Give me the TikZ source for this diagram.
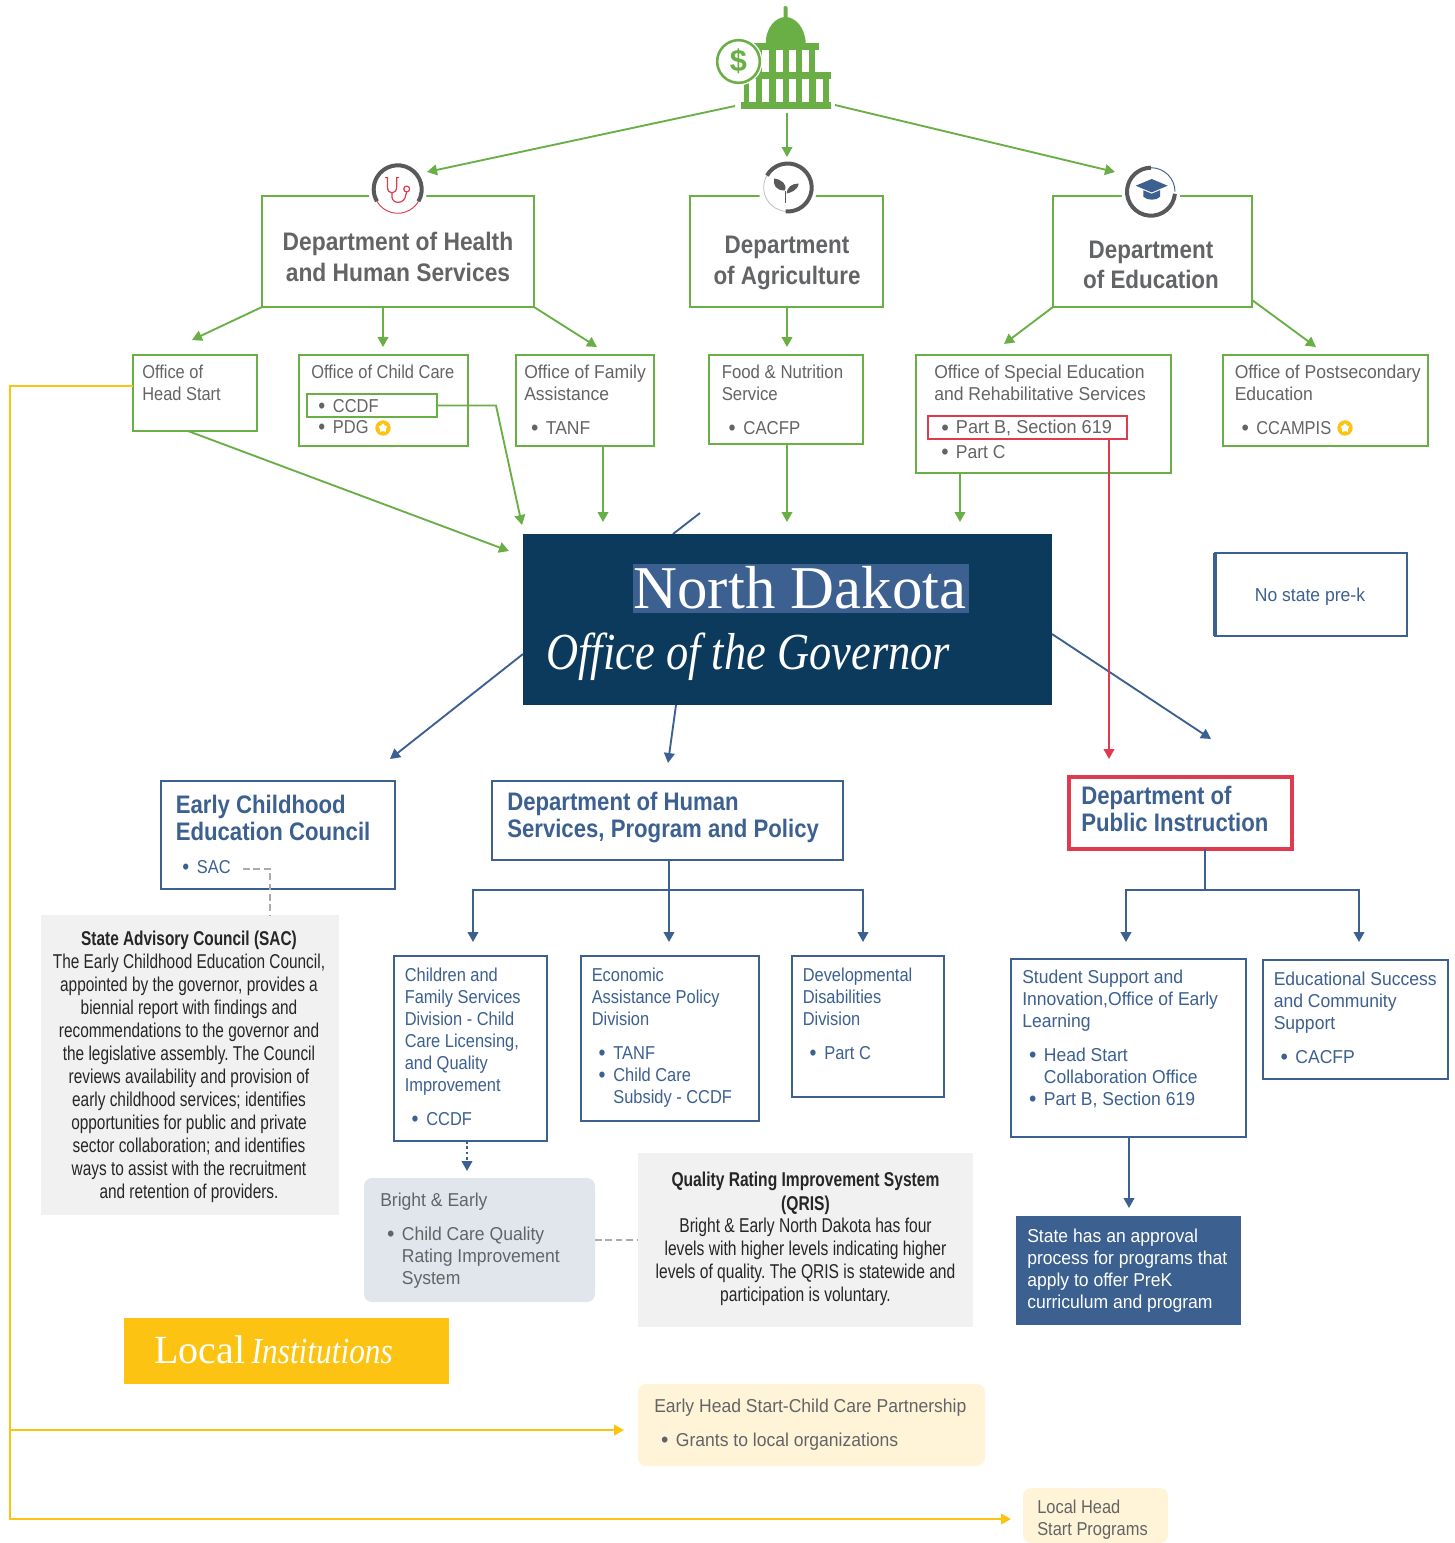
\documentclass[tikz,border=0pt]{standalone}
\usepackage{fontspec}
\usetikzlibrary{arrows.meta,calc,shapes.geometric}
\setmainfont{Liberation Sans}
\newfontfamily\bodyf[FakeStretch=.88]{Liberation Sans}
\newfontfamily\midf[FakeStretch=.9]{Liberation Sans}
\newfontfamily\widef[FakeStretch=.94]{Liberation Sans}
\newfontfamily\widerf[FakeStretch=.97]{Liberation Sans}
\newfontfamily\condf[FakeStretch=.78]{Liberation Sans}
\newfontfamily\sacf[FakeStretch=.77]{Liberation Sans}
\newfontfamily\headf[FakeStretch=.875]{Liberation Sans}
\newfontfamily\deptf[FakeStretch=.9]{Liberation Sans}
\newfontfamily\deptnf[FakeStretch=.885]{Liberation Sans}
\newfontfamily\serf{Liberation Serif}
\newfontfamily\serif[FakeStretch=.855]{Liberation Serif}
\definecolor{cgreen}{HTML}{6AAF46}
\definecolor{cblue}{HTML}{3C6090}
\definecolor{cnavy}{HTML}{0B3A5C}
\definecolor{cred}{HTML}{E03A4E}
\definecolor{cyel}{HTML}{FCC312}
\definecolor{ctext}{HTML}{636466}
\definecolor{cgraybox}{HTML}{F1F1F2}
\definecolor{cbluebox}{HTML}{E1E6ED}
\definecolor{cyelbox}{HTML}{FFF4D8}
\definecolor{cring}{HTML}{58595B}
\definecolor{cdash}{HTML}{ABABAB}
\newcommand\bx[6]{\pgfmathsetmacro\bxw{(#4-#2)*.75}\pgfmathsetmacro\bxh{(#5-#3)*.75}%
  \node[#1,anchor=north west,minimum width=\bxw pt,minimum height=\bxh pt,inner sep=0pt,outer sep=0pt] (#6) at (#2,#3) {};}
\newcommand\ringarc[6]{\draw[#6] (#1,#2) ++(#3:#5pt) arc[start angle=#3,end angle=#4,radius=#5pt];}
\newcommand\bul{\makebox[11pt][l]{\raisebox{-.15ex}{\scalebox{1.2}{\textbullet}}}}
\newcommand\bl{\hspace{5.2pt}\bul}
\newcommand\cnt{\hspace{16.2pt}}
\tikzset{
  gbox/.style={draw=cgreen,line width=1.9pt,fill=white},
  gthin/.style={draw=cgreen,line width=1.5pt,fill=white},
  bbox/.style={draw=cblue,line width=2pt,fill=white},
  bthin/.style={draw=cblue,line width=1.5pt,fill=white},
  garrow/.style={draw=cgreen,line width=1.4pt,-{Triangle[length=7.5pt,width=8pt]}},
  barrow/.style={draw=cblue,line width=1.4pt,-{Triangle[length=7.5pt,width=8pt]}},
  rarrow/.style={draw=cred,line width=1.4pt,-{Triangle[length=7.5pt,width=8pt]}},
  yarrow/.style={draw=cyel,line width=1.4pt,-{Triangle[length=7.5pt,width=8pt]}},
  dashg/.style={draw=cdash,line width=2pt,dash pattern=on 5pt off 2.8pt},
  txt/.style={anchor=north west,inner sep=0pt,yshift=-1.4pt,align=left,text=ctext,font=\bodyf\frenchspacing\fontsize{14}{16.5}\selectfont},
  wtxt/.style={txt,font=\widef\frenchspacing\fontsize{14}{16.5}\selectfont},
  btxt/.style={txt,text=cblue},
  dept/.style={inner sep=0pt,align=center,text=ctext,font=\deptf\bfseries\fontsize{19}{22.8}\selectfont},
  deptn/.style={dept,font=\deptnf\bfseries\fontsize{19}{22.8}\selectfont},
  bhead/.style={anchor=north west,inner sep=0pt,yshift=-1.6pt,align=left,text=cblue,font=\headf\bfseries\fontsize{19}{20.4}\selectfont},
  para/.style={anchor=north,inner sep=0pt,yshift=-1.6pt,align=center,text=black!85,font=\condf\frenchspacing\fontsize{15}{17.35}\selectfont},
  sacpara/.style={para,yshift=-1pt,font=\sacf\frenchspacing\fontsize{15}{17.3}\selectfont},
  starmark/.style={circle,fill=cyel,minimum size=11.5pt,inner sep=0pt},
  starin/.style={star,star points=5,fill=white,minimum size=7pt,inner sep=0pt},
}
\begin{document}
\begin{tikzpicture}[x=0.75pt,y=-0.75pt]
\useasboundingbox (0,0) rectangle (1454,1543);

% ---- capitol icon
\fill[cgreen,rounded corners=1pt] (783.5,6) rectangle (787.5,20);
\fill[cgreen] (765.7,43) .. controls (766,27) and (776,17) .. (785.5,17) .. controls (795,17) and (805,27) .. (805.7,43) -- cycle;
\fill[cgreen] (750,42.7) rectangle (819,50);
\fill[cgreen] (755,50) rectangle (815,72);
\fill[cgreen] (742,72) rectangle (831,79);
\fill[cgreen] (744,79) rectangle (829,102);
\fill[cgreen] (740.5,102) rectangle (831,109);
\foreach \xx in {762,775.5,789,802}{\fill[white] (\xx,50) rectangle (\xx+7,72);}
\foreach \xx in {749,762,775.5,789,802,815.5}{\fill[white] (\xx,79) rectangle (\xx+7,102);}
\fill[white] (738.5,61.5) circle[radius=18pt];
\draw[cgreen,line width=1.9pt] (738.5,61.5) circle[radius=16pt];
\node[inner sep=0pt,text=cgreen,font=\bfseries\fontsize{23}{23}\selectfont] (dollar) at (738.5,61.5) {\$};
\coordinate (capL) at (735,106);
\coordinate (capC) at (787,113);
\coordinate (capR) at (835,105);

% ---- department boxes
\bx{gbox}{262}{196}{534}{307}{health}
\bx{gbox}{690}{196}{883}{307}{agri}
\bx{gbox}{1053}{196}{1252}{307}{educ}
\node[dept] (healthT) at (398,257) {Department of Health\\and Human Services};
\node[deptn] (agriT) at (787,262.5) {Department\\[.5pt]of Agriculture};
\node[deptn] (educT) at (1151,265) {Department\\of Education};

% ---- department icons
\fill[white] (397.7,189.3) circle[radius=22pt];
\ringarc{397.7}{189.3}{-150}{-30}{18}{cred,line width=.7pt}
\ringarc{397.7}{189.3}{-30}{210}{18}{cring,line width=3pt}
\begin{scope}[shift={(397.7,189.3)}]
\draw[cred,line width=.9pt,line cap=round] (-12,-11.7) -- (-10.3,-11.7) -- (-10.3,-3) .. controls (-10.3,2) and (-8,3.5) .. (-5.7,3.5) .. controls (-3.5,3.5) and (-1,2) .. (-1,-3) -- (-1,-11.7) -- (1,-11.7);
\draw[cred,line width=.9pt] (-5.7,3.5) -- (-5.7,8) .. controls (-5,15) and (7,15) .. (8,6) -- (9,2.5);
\draw[cred,line width=.9pt] (9,-.3) circle[radius=2.2pt];
\end{scope}
\coordinate (iconH) at (427,172);

\fill[white] (787.7,187.5) circle[radius=22pt];
\ringarc{787.7}{187.5}{150}{265}{18}{black!25,line width=.6pt}
\ringarc{787.7}{187.5}{150}{-95}{18}{cring,line width=3pt}
\begin{scope}[shift={(787.7,187.5)}]
\draw[cring,line width=1.1pt] (-2,15) -- (-2,3);
\fill[cring] (-3,3) .. controls (-12,3) and (-15,-3) .. (-13.5,-9) .. controls (-6,-8) and (0,-3) .. (-3,3) -- cycle;
\fill[cring] (-1,6) .. controls (3,5) and (10,3) .. (11,-4) .. controls (4,-4) and (-1,0) .. (-1,6) -- cycle;
\end{scope}
\coordinate (iconA) at (787,157);

\fill[white] (1151,191.7) circle[radius=22pt];
\ringarc{1151}{191.7}{90}{0}{18}{cblue,line width=.7pt}
\ringarc{1151}{191.7}{-5}{-270}{18}{cring,line width=3pt}
\begin{scope}[shift={(1151,191.7)}]
\fill[cblue] (-15.3,-6) -- (.7,-12.7) -- (16.7,-6) -- (.7,.7) -- cycle;
\fill[cblue] (-7.7,-1.5) -- (.7,2) -- (9,-1.5) -- (9,5) .. controls (6,9) and (-4,9) .. (-7.7,5) -- cycle;
\end{scope}
\coordinate (iconE) at (1115,172);

\draw[garrow] (capL) -- (iconH);
\draw[garrow] (capC) -- (iconA);
\draw[garrow] (capR) -- (iconE);

% ---- offices
\bx{gthin}{133}{355}{257}{431}{headstart}
\node[txt] (headstartT) at (142,363) {Office of\\Head Start};
\bx{gthin}{299}{355}{468}{446}{childcare}
\node[txt] (childcareT) at (311,363) {Office of Child Care};
\bx{gthin}{307}{394}{437}{417}{ccdfbox}
\node[txt] (ccdfT) at (318,397) {\bul CCDF\\[-.5pt]\bul PDG};
\node[starmark] (star1) at (383,428) {};
\node[starin] at (star1) {};
\bx{gthin}{516}{355}{654}{446}{family}
\node[wtxt] (familyT) at (524,363) {Office of Family\\Assistance\\[8.5pt]\bl TANF};
\bx{gthin}{709}{355}{863}{444}{food}
\node[txt,font=\midf\frenchspacing\fontsize{14}{16.5}\selectfont] (foodT) at (721.5,363) {Food \& Nutrition\\Service\\[8.5pt]\bl CACFP};
\bx{gthin}{916}{355}{1171}{473}{special}
\node[wtxt] (specialT) at (934,363) {Office of Special Education\\and Rehabilitative Services};
\bx{draw=cred,line width=1.5pt,fill=white}{928}{416}{1127}{439}{partb}
\node[wtxt,font=\widerf\frenchspacing\fontsize{14}{16.5}\selectfont] (partbT) at (941,418) {\bul Part B, Section 619};
\node[wtxt] (partcT) at (941,443) {\bul Part C};
\bx{gthin}{1223}{355}{1428}{446}{postsec}
\node[wtxt] (postsecT) at (1234.5,363) {Office of Postsecondary\\Education\\[8.5pt]\bl {\bodyf CCAMPIS}};
\node[starmark] (star2) at (1345,428) {};
\node[starin] at (star2) {};

\draw[garrow] (health.south west) -- (192,340);
\draw[garrow] (383,307) -- (383,347);
\draw[garrow] (health.south east) -- (597,347);
\draw[garrow] (787,307) -- (787,347);
\draw[garrow] (educ.south west) -- (1004,344);
\draw[garrow] (1252,300) -- (1316,347);

% ---- governor
\draw[cblue,line width=1.4pt] (700,513) -- (673,534);
\bx{fill=cnavy}{523}{534}{1052}{705}{gov}
\fill[cblue] (633,564) rectangle (969,613);
\node[anchor=base,inner sep=0pt,text=white,font=\serf\fontsize{45.6}{45.6}\selectfont] (govA) at (800,608) {North Dakota};
\node[anchor=base west,inner sep=0pt,text=white,font=\serif\itshape\fontsize{39}{39}\selectfont] (govB) at (546,669) {Office of the Governor};

\draw[garrow] (188,431) -- (509,551);
\draw[garrow] (ccdfbox.east) -- (496,405.5) -- (522,525);
\draw[garrow] (603,446) -- (603,522);
\draw[garrow] (787,444) -- (787,522);
\draw[garrow] (960,473) -- (960,522);

% ---- no state pre-k
\bx{draw=cblue,line width=1.3pt,fill=white}{1215}{553}{1407}{636}{prek}
\draw[cblue,line width=3pt] (prek.north west) -- (prek.south west);
\draw[cblue,line width=2.2pt] (prek.south west) -- (prek.south east);
\node[wtxt,text=cblue,anchor=center,yshift=0pt] (prekT) at (1310,595) {No state pre-k};

% ---- state agencies
\bx{bbox}{161}{781}{395}{889}{ecec}
\node[bhead] (ecT) at (175.5,793) {Early Childhood\\Education Council};
\node[btxt] (sacT) at (182,858) {\bul SAC};
\bx{bbox}{492}{781}{843}{860}{dhs}
\node[bhead] (dhsT) at (507,790) {Department of Human\\Services, Program and Policy};
\bx{draw=cred,line width=3pt,fill=white}{1069}{777}{1292}{849}{dpi}
\node[bhead] (dpiT) at (1081,784) {Department of\\Public Instruction};

\draw[barrow] (523,654) -- (390,759);
\draw[barrow] (676,705) -- (668,763);
\draw[barrow] (1052,634) -- (1211,739);
\coordinate (redEnd) at (1109,759);
\draw[rarrow] (1109,439) -- (redEnd);

% ---- divisions
\bx{bthin}{394}{956}{547}{1141}{cfs}
\node[btxt] (cfsT) at (404.5,966) {Children and\\Family Services\\Division - Child\\Care Licensing,\\and Quality\\Improvement\\[8.5pt]\bl CCDF};
\bx{bthin}{581}{956}{759}{1121}{eap}
\node[btxt] (eapT) at (591.5,966) {Economic\\Assistance Policy\\Division\\[8.5pt]\bl TANF\\\bl Child Care\\\cnt Subsidy - CCDF};
\bx{bthin}{792}{956}{944}{1097}{dev}
\node[btxt] (devT) at (802.5,966) {Developmental\\Disabilities\\Division\\[8.5pt]\bl Part C};
\bx{bbox}{1011}{959}{1246}{1137}{ssi}
\node[wtxt,text=cblue] (ssiT) at (1022,968) {Student Support and\\Innovation,Office of Early\\Learning\\[8.5pt]\bl Head Start\\\cnt Collaboration Office\\\bl Part B, Section 619};
\bx{bthin}{1263}{960}{1448}{1079}{esc}
\node[wtxt,text=cblue] (escT) at (1273.5,970) {Educational Success\\and Community\\Support\\[8.5pt]\bl CACFP};

\coordinate (dhsJ) at (669,890);
\coordinate (dpiJ) at (1205,890);
\draw[cblue,line width=1.4pt] (dhs.south -| dhsJ) -- (dhsJ);
\draw[cblue,line width=1.4pt] (dpi.south -| dpiJ) -- (dpiJ);
\draw[barrow] (dhsJ) -| (473,942);
\draw[barrow] (dhsJ) -- (669,942);
\draw[barrow] (dhsJ) -| (863,942);
\draw[barrow] (dpiJ) -| (1126,942);
\draw[barrow] (dpiJ) -| (1359,942);

% ---- lower boxes
\bx{fill=cgraybox}{41}{915}{339}{1215}{sacbox}
\node[sacpara] (sacboxT) at (189,927) {\textbf{State Advisory Council (SAC)}\\The Early Childhood Education Council,\\appointed by the governor, provides a\\biennial report with findings and\\recommendations to the governor and\\the legislative assembly. The Council\\reviews availability and provision of\\early childhood services; identifies\\opportunities for public and private\\sector collaboration; and identifies\\ways to assist with the recruitment\\and retention of providers.};
\bx{fill=cbluebox,rounded corners=6pt}{364}{1178}{595}{1302}{bright}
\node[wtxt] (brightT) at (380,1191) {Bright \& Early\\[8.5pt]\bl Child Care Quality\\\cnt Rating Improvement\\\cnt System};
\bx{fill=cgraybox}{638}{1153}{973}{1327}{qris}
\node[para] (qrisT) at (805.5,1170) {\textbf{Quality Rating Improvement System}\\\textbf{(QRIS)}\\[-.5pt]Bright \& Early North Dakota has four\\levels with higher levels indicating higher\\levels of quality. The QRIS is statewide and\\participation is voluntary.};
\bx{fill=cblue}{1016}{1216}{1241}{1325}{approval}
\node[wtxt,text=white] (approvalT) at (1027,1227) {State has an approval\\process for programs that\\apply to offer PreK\\curriculum and program};
\bx{fill=cyel}{124}{1318}{449}{1384}{local}
\node[anchor=base west,inner sep=0pt,text=white,font=\serf\fontsize{30}{30}\selectfont] (localT) at (154,1363) {Local\hspace{.16em}{\serif\itshape\fontsize{27.5}{27.5}\selectfont Institutions}};
\bx{fill=cyelbox,rounded corners=6pt}{638}{1384}{985}{1466}{ehs}
\node[wtxt] (ehsT) at (654,1397) {Early Head Start-Child Care Partnership\\[8.5pt]\bl Grants to local organizations};
\bx{fill=cyelbox,rounded corners=6pt}{1023}{1488}{1168}{1543}{lhs}
\node[txt] (lhsT) at (1037,1498) {Local Head\\Start Programs};

\coordinate (sacA) at (243,869);
\coordinate (sacB) at (270,869);
\draw[dashg] (sacA) -- (sacB) -- (sacB |- sacbox.north);
\coordinate (qa) at (595,1240);
\draw[dashg] (qa) -- (qa -| qris.west);
\draw[barrow,dash pattern=on 2pt off 2pt] (467,1141) -- (467,1171);
\draw[barrow] (1129,1137) -- (1129,1208);

% ---- yellow lines
\coordinate (yl) at (10,386);
\coordinate (yb) at (10,1519);
\coordinate (ym) at (10,1430);
\coordinate (yend) at (1011,1519);
\coordinate (ymend) at (624,1430);
\draw[yarrow] (headstart.west |- yl) -- (yl) -- (yb) -- (yend);
\draw[yarrow] (ym) -- (ymend);
\end{tikzpicture}
\end{document}
